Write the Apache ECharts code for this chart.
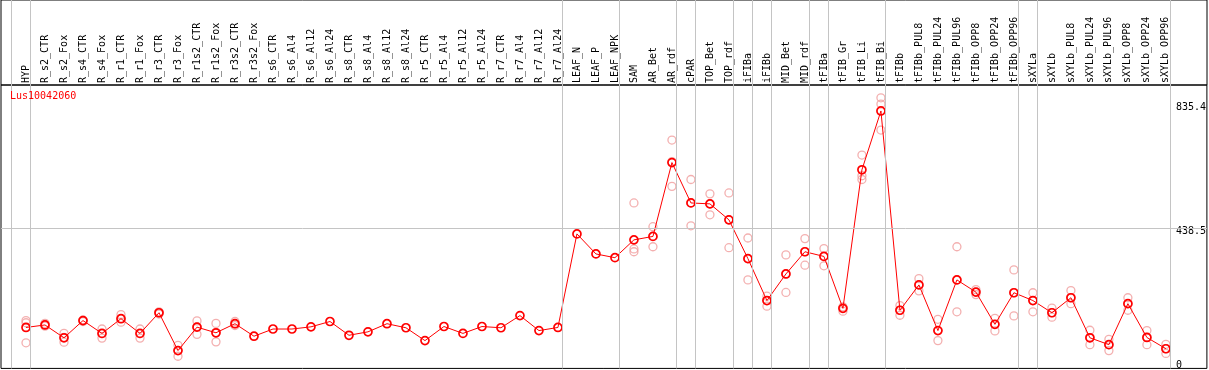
<!DOCTYPE html>
<html>
<head>
<meta charset="utf-8">
<script src="https://cdn.jsdelivr.net/npm/echarts@6/dist/echarts.min.js"></script>
<style>
html,body{margin:0;padding:0;background:#fff;}
#chart{width:1209px;height:370px;}
</style>
</head>
<body>
<div id="chart"></div>
<script>
const geneTitle = 'Lus10042060';
const categories = ['HYP','R_s2_CTR','R_s2_Fox','R_s4_CTR','R_s4_Fox','R_r1_CTR','R_r1_Fox','R_r3_CTR','R_r3_Fox','R_r1s2_CTR','R_r1s2_Fox','R_r3s2_CTR','R_r3s2_Fox','R_s6_CTR','R_s6_Al4','R_s6_Al12','R_s6_Al24','R_s8_CTR','R_s8_Al4','R_s8_Al12','R_s8_Al24','R_r5_CTR','R_r5_Al4','R_r5_Al12','R_r5_Al24','R_r7_CTR','R_r7_Al4','R_r7_Al12','R_r7_Al24','LEAF_N','LEAF_P','LEAF_NPK','SAM','AR_Bet','AR_rdf','cPAR','TOP_Bet','TOP_rdf','iFIBa','iFIBb','MID_Bet','MID_rdf','tFIBa','tFIB_Gr','tFIB_Li','tFIB_Bi','tFIBb','tFIBb_PUL8','tFIBb_PUL24','tFIBb_PUL96','tFIBb_OPP8','tFIBb_OPP24','tFIBb_OPP96','sXYLa','sXYLb','sXYLb_PUL8','sXYLb_PUL24','sXYLb_PUL96','sXYLb_OPP8','sXYLb_OPP24','sXYLb_OPP96'];
const means = [120,128,87,142,101,148,101,167,46,121,103,132,92,115,115,122,139,95,106,132,119,78,123,101,123,119,158,110,120,419,355,343,400,411,647,518,515,464,340,206,291,362,347,181,624,812,175,256,110,272,233,130,231,206,167,215,87,65,196,88,52];
const rep1 = [142,133,101,144,115,161,115,170,63,141,133,139,null,null,null,null,null,null,null,null,null,null,null,null,null,null,null,null,null,null,null,null,518,442,719,593,547,550,406,220,352,404,372,186,671,854,190,276,146,378,241,149,304,231,182,238,111,82,215,110,66];
const rep2 = [135,128,88,142,100,148,100,167,47,122,103,131,null,null,null,null,null,null,null,null,null,null,null,null,null,null,null,null,null,null,null,null,371,411,650,518,515,464,340,206,291,362,347,181,605,834,175,256,110,272,233,130,231,206,167,215,87,65,196,88,52];
const rep3 = [71,124,73,139,86,137,86,163,28,98,74,126,null,null,null,null,null,null,null,null,null,null,null,null,null,null,null,null,null,null,null,null,362,378,571,445,480,375,272,188,232,319,317,172,593,751,159,237,78,170,225,109,157,170,153,196,65,46,175,65,37];
const groupEnds = [-1,0,28,31,34,35,37,38,39,41,42,45,52,53,60];
const yTickLabels = [0, 438.5, 835.4];
const yGridValues = [438.5];

const MONO = 'DejaVu Sans Mono';
const X0 = 26, STEP = 19, LEFT = 1, RIGHT_EDGE = 1207;
const XMIN = (LEFT - X0) / STEP, XMAX = (RIGHT_EDGE - X0) / STEP;
const LINE_OFF = 0.24;
const YMIN = -10.9, YMAX = 895;

const meanData = means.map((v, i) => [i, v]);
const repData = [];
[rep1, rep2, rep3].forEach(arr => arr.forEach((v, i) => { if (v !== null) repData.push([i, v]); }));
const vLines = groupEnds.map(g => ({ xAxis: g + LINE_OFF }));
const gridGray = '#c4c4c4';

const chart = echarts.init(document.getElementById('chart'), null, { renderer: 'canvas' });
chart.setOption({
  animation: false,
  backgroundColor: '#fff',
  title: {
    text: geneTitle, left: 10, top: 91, padding: 0,
    textStyle: { color: '#ff0000', fontSize: 10, fontWeight: 'normal', fontFamily: MONO }
  },
  grid: [
    { left: LEFT, right: 1209 - RIGHT_EDGE, top: 85, bottom: 1, show: true, borderColor: '#000', borderWidth: 1, backgroundColor: 'transparent' },
    { left: LEFT, right: 1209 - RIGHT_EDGE, top: 0, height: 85, show: true, borderColor: '#000', borderWidth: 1, backgroundColor: 'transparent' }
  ],
  xAxis: [
    {
      gridIndex: 0, type: 'value', position: 'top', min: XMIN, max: XMAX,
      axisLine: { show: false }, axisTick: { show: false }, splitLine: { show: false },
      axisLabel: {
        customValues: categories.map((c, i) => i),
        formatter: v => categories[Math.round(v)],
        rotate: 90, margin: 2, color: '#000', fontSize: 10, fontFamily: MONO
      }
    },
    { gridIndex: 1, type: 'value', min: XMIN, max: XMAX, show: false }
  ],
  yAxis: [
    {
      gridIndex: 0, type: 'value', position: 'right', min: YMIN, max: YMAX,
      axisLine: { show: false }, axisTick: { show: false }, splitLine: { show: false },
      axisLabel: {
        customValues: yTickLabels,
        margin: -31, align: 'left', verticalAlign: 'middle',
        color: '#000', fontSize: 10, fontFamily: MONO,
        formatter: v => v === 0 ? '{z|0}' : '{n|' + v + '}',
        rich: {
          n: { padding: [8, 0, 0, 0], fontSize: 10, fontFamily: MONO, color: '#000' },
          z: { padding: [0, 0, 0, 0], fontSize: 10, fontFamily: MONO, color: '#000' }
        }
      }
    },
    { gridIndex: 1, type: 'value', min: 0, max: 1, show: false }
  ],
  series: [
    {
      name: 'gridPlot', type: 'line', xAxisIndex: 0, yAxisIndex: 0, z: 1,
      data: [[-100, -100]], showSymbol: false, symbol: 'none', lineStyle: { width: 0 }, silent: true,
      markLine: {
        silent: true, symbol: ['none', 'none'], label: { show: false },
        lineStyle: { color: gridGray, type: 'solid', width: 1 },
        data: vLines.concat(yGridValues.map(v => ({ yAxis: v })))
      }
    },
    {
      name: 'gridHead', type: 'line', xAxisIndex: 1, yAxisIndex: 1, z: 1,
      data: [[-100, -100]], showSymbol: false, symbol: 'none', lineStyle: { width: 0 }, silent: true,
      markLine: {
        silent: true, symbol: ['none', 'none'], label: { show: false },
        lineStyle: { color: gridGray, type: 'solid', width: 1 },
        data: vLines
      }
    },
    {
      name: 'replicates', type: 'scatter', xAxisIndex: 0, yAxisIndex: 0, z: 2,
      data: repData, symbol: 'circle', symbolSize: 8,
      itemStyle: { color: 'rgba(0,0,0,0)', borderColor: '#f09c9c', borderWidth: 1.3 }
    },
    {
      name: 'mean', type: 'line', xAxisIndex: 0, yAxisIndex: 0, z: 3,
      data: meanData, symbol: 'circle', symbolSize: 8, showAllSymbol: true,
      lineStyle: { color: '#ff0000', width: 1 },
      itemStyle: { color: 'rgba(0,0,0,0)', borderColor: '#ff0000', borderWidth: 1.7 }
    }
  ]
});
</script>
</body>
</html>
